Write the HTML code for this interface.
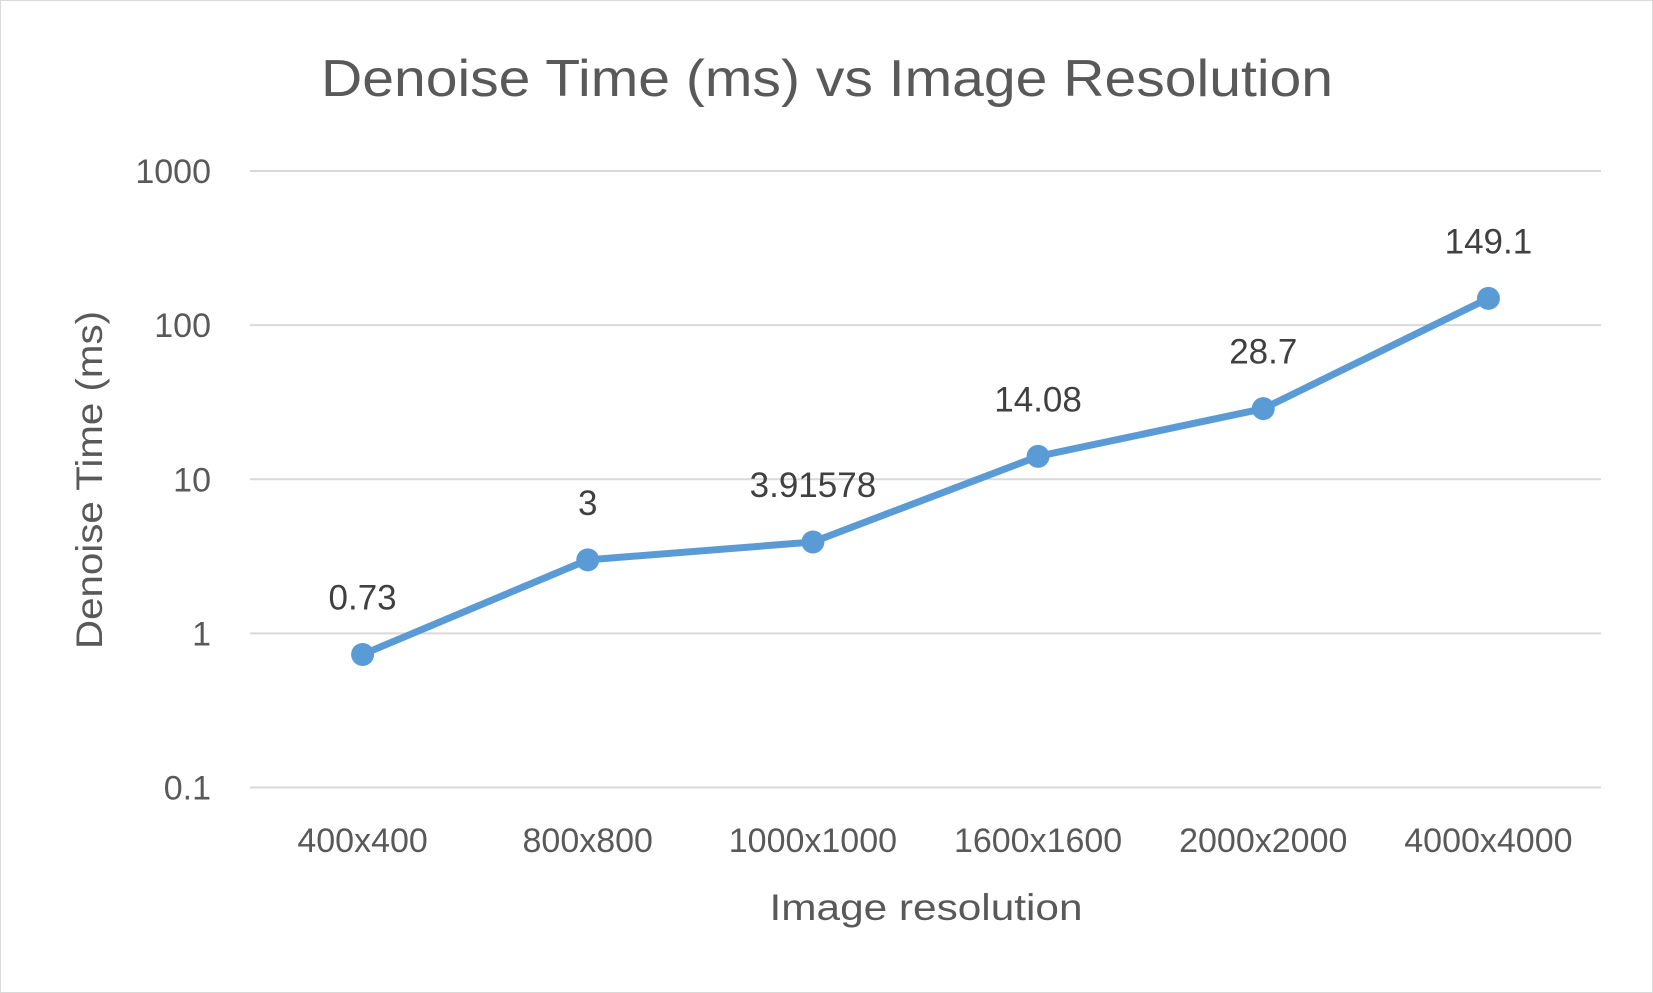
<!DOCTYPE html>
<html>
<head>
<meta charset="utf-8">
<style>
html,body{margin:0;padding:0;background:#fff;}
svg{display:block;font-family:"Liberation Sans",sans-serif;}
</style>
</head>
<body>
<svg id="chart" width="1653" height="993" viewBox="0 0 1653 993">
  <rect x="0.5" y="0.5" width="1652" height="992" fill="#fff" stroke="#d9d9d9"/>
  <text x="827" y="96" text-anchor="middle" font-size="52" fill="#595959" textLength="1012" lengthAdjust="spacingAndGlyphs">Denoise Time (ms) vs Image Resolution</text>
  <g id="grid"></g>
  <g id="yticks"></g>
  <g id="xticks"></g>
  <text transform="translate(102,480) rotate(-90)" text-anchor="middle" font-size="37" fill="#595959" textLength="338" lengthAdjust="spacingAndGlyphs">Denoise Time (ms)</text>
  <text x="926" y="920" text-anchor="middle" font-size="37" fill="#595959" textLength="313" lengthAdjust="spacingAndGlyphs">Image resolution</text>
  <g id="series"></g>
</svg>
<script>
const categories = ["400x400","800x800","1000x1000","1600x1600","2000x2000","4000x4000"];
const values = [0.73, 3, 3.91578, 14.08, 28.7, 149.1];
const valueLabels = ["0.73","3","3.91578","14.08","28.7","149.1"];
const yTicks = [0.1, 1, 10, 100, 1000];
const yTickLabels = ["0.1","1","10","100","1000"];

const NS = "http://www.w3.org/2000/svg";
const plotL = 250, plotR = 1601, yTop = 171, yBot = 787.5;
const logMin = -1, logMax = 3;
function yScale(v){ return yBot - (Math.log10(v) - logMin) / (logMax - logMin) * (yBot - yTop); }
function xScale(i){ const w = (plotR - plotL) / categories.length; return plotL + w * (i + 0.5); }
function mk(tag, attrs, parent){ const e = document.createElementNS(NS, tag); for (const k in attrs) e.setAttribute(k, attrs[k]); parent.appendChild(e); return e; }

const grid = document.getElementById('grid');
const yt = document.getElementById('yticks');
yTicks.forEach((t, i) => {
  const y = yScale(t);
  const l = mk('line', {x1: plotL, x2: plotR, y1: y, y2: y, stroke: '#d9d9d9', 'stroke-width': 2}, grid);
  
  
  const tx = mk('text', {x: 211, y: y + 12, 'text-anchor': 'end', 'font-size': 34, fill: '#595959'}, yt);
  tx.textContent = yTickLabels[i];
  
  
});

const xt = document.getElementById('xticks');
categories.forEach((c, i) => {
  const tx = mk('text', {x: xScale(i), y: 852, 'text-anchor': 'middle', 'font-size': 34, fill: '#595959'}, xt);
  tx.textContent = c;
  
  
});

const s = document.getElementById('series');
const pts = values.map((v, i) => xScale(i) + ',' + yScale(v)).join(' ');
const pl = mk('polyline', {points: pts, fill: 'none', stroke: '#5b9bd5', 'stroke-width': 7, 'stroke-linejoin': 'round'}, s);


values.forEach((v, i) => {
  const c = mk('circle', {cx: xScale(i), cy: yScale(v), r: 11.5, fill: '#5b9bd5'}, s);
  
  
  const t = mk('text', {x: xScale(i), y: yScale(v) - 45, 'text-anchor': 'middle', 'font-size': 35, fill: '#404040'}, s);
  t.textContent = valueLabels[i];
  
  
});
</script>
</body>
</html>
